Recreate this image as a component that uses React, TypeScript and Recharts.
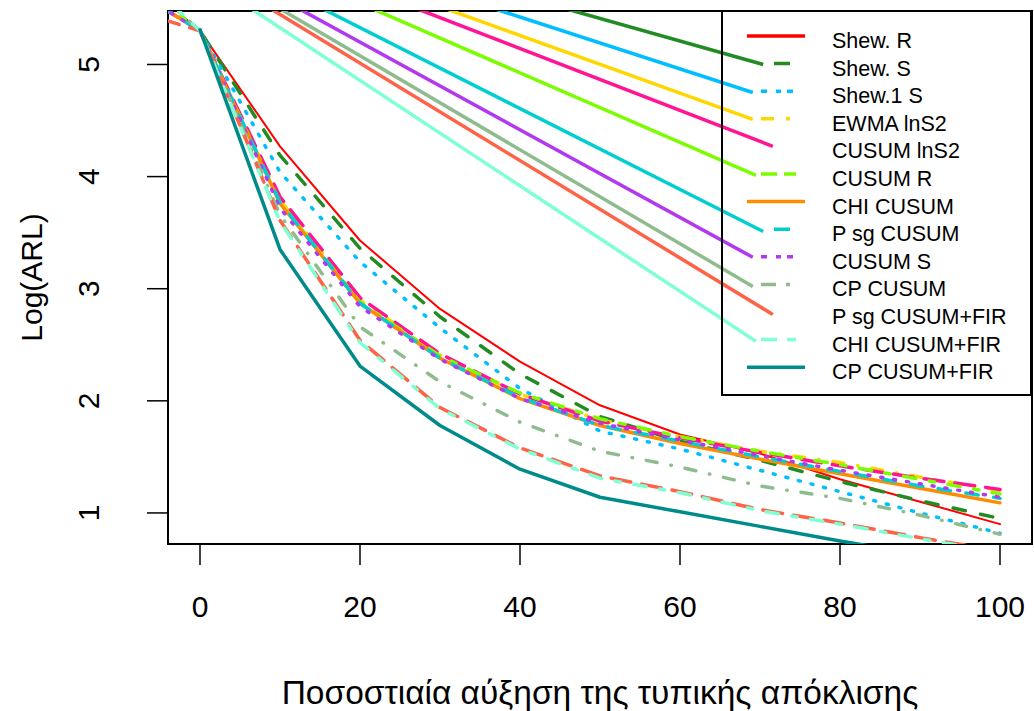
import React from 'react';
import { LineChart, Line, XAxis, YAxis, ReferenceArea, Legend, Label } from 'recharts';

const FONT = '"Liberation Sans", Arial, Helvetica, sans-serif';

// x values: percentage increase of the standard deviation
const pctFromZero = [0, 10, 20, 30, 40, 50, 60, 70, 80, 90, 100];
const pctFromMinus5 = [-5, 0, 10, 20, 30, 40, 50, 60, 70, 80, 90, 100];

// log(ARL) values
const shewR = [5.30, 4.27, 3.43, 2.82, 2.35, 1.96, 1.70, 1.53, 1.30, 1.10, 0.90];
const shewS = [5.57, 5.30, 4.19, 3.36, 2.75, 2.24, 1.86, 1.64, 1.47, 1.28, 1.11, 0.95];
const shew1S = [5.57, 5.30, 4.04, 3.24, 2.65, 2.11, 1.73, 1.57, 1.38, 1.19, 1.00, 0.82];
const ewmaLnS2 = [5.52, 5.30, 3.79, 2.90, 2.41, 2.06, 1.83, 1.68, 1.55, 1.45, 1.32, 1.20];
const cusumLnS2 = [5.52, 5.30, 3.82, 2.92, 2.42, 2.06, 1.82, 1.67, 1.54, 1.42, 1.31, 1.21];
const cusumR = [5.57, 5.30, 3.77, 2.88, 2.40, 2.07, 1.84, 1.68, 1.55, 1.43, 1.30, 1.17];
const chiCusum = [5.52, 5.30, 3.76, 2.87, 2.38, 2.02, 1.78, 1.62, 1.48, 1.35, 1.22, 1.09];
const psgCusum = [5.52, 5.30, 3.77, 2.87, 2.38, 2.03, 1.78, 1.64, 1.50, 1.37, 1.24, 1.13];
const cusumS = [5.52, 5.30, 3.72, 2.84, 2.37, 2.02, 1.80, 1.65, 1.51, 1.38, 1.26, 1.14];
const cpCusum = [5.62, 5.30, 3.66, 2.66, 2.17, 1.81, 1.55, 1.41, 1.24, 1.13, 0.98, 0.81];
const psgCusumFir = [5.41, 5.30, 3.61, 2.54, 1.94, 1.58, 1.33, 1.19, 1.03, 0.91, 0.78, 0.66];
const chiCusumFir = [5.64, 5.30, 3.60, 2.52, 1.93, 1.57, 1.31, 1.18, 1.02, 0.90, 0.77, 0.65];
const cpCusumFir = [5.31, 3.35, 2.31, 1.78, 1.39, 1.14, 1.01, 0.88, 0.75, 0.63, 0.52];

const names = [
  'Shew. R', 'Shew. S', 'Shew.1 S', 'EWMA lnS2', 'CUSUM lnS2', 'CUSUM R', 'CHI CUSUM',
  'P sg CUSUM', 'CUSUM S', 'CP CUSUM', 'P sg CUSUM+FIR', 'CHI CUSUM+FIR', 'CP CUSUM+FIR',
];
const xsOf = [
  pctFromZero, pctFromMinus5, pctFromMinus5, pctFromMinus5, pctFromMinus5, pctFromMinus5, pctFromMinus5,
  pctFromMinus5, pctFromMinus5, pctFromMinus5, pctFromMinus5, pctFromMinus5, pctFromZero,
];
const ysOf = [
  shewR, shewS, shew1S, ewmaLnS2, cusumLnS2, cusumR, chiCusum,
  psgCusum, cusumS, cpCusum, psgCusumFir, chiCusumFir, cpCusumFir,
];

// stray straight strokes that run into the legend keys (data units)
const leaderFrom = { x: -23, y: 6.88 };
const leaderToX = [null, 70.4, 69.1, 69.1, 71.6, 69.5, null, 70.4, 69.1, 69.1, 71.6, 69.5, null];
const leaderToY = [null, 5.0, 4.75, 4.51, 4.27, 4.01, null, 3.51, 3.28, 3.02, 2.77, 2.53, null];

const xTicks = [0, 20, 40, 60, 80, 100];
const yTicks = [1, 2, 3, 4, 5];

const DASHED = '12.5 15.5';
const DOTTED = '2 11';
const DOTDASH = '11 14 0.5 14';
const LONGDASH = '20 11';
const TWODASH = '12.5 13.5 5.5 13.5';

const styles = [
  { color: '#FF0000', width: 2, dash: undefined, key: 'solid' },
  { color: '#228B22', width: 3.5, dash: DASHED, key: '0 27 16 100' },
  { color: '#00BFFF', width: 3.5, dash: DOTTED, key: '0 14 6 9 5 6 6 100' },
  { color: '#FFD700', width: 3.5, dash: DOTDASH, key: '0 14 13 12 4 100' },
  { color: '#FF1493', width: 3.5, dash: LONGDASH, key: 'none' },
  { color: '#7CFC00', width: 3.5, dash: TWODASH, key: '0 14 16 7 12 100' },
  { color: '#FF8C00', width: 3.5, dash: undefined, key: 'solid' },
  { color: '#00CED1', width: 3.5, dash: DASHED, key: '0 27 16 100' },
  { color: '#B23AEE', width: 3.5, dash: DOTTED, key: '0 14 6 9 5 6 6 100' },
  { color: '#8FBC8F', width: 3.5, dash: DOTDASH, key: '0 14 15 10 4 100' },
  { color: '#FF6347', width: 3.5, dash: LONGDASH, key: 'none' },
  { color: '#7FFFD4', width: 3.5, dash: TWODASH, key: '0 14 16 10 9 100' },
  { color: '#008B8B', width: 3.5, dash: undefined, key: 'solid' },
];

const series = names.map((name, i) => ({
  name,
  data: xsOf[i].map((x, j) => ({ x, y: ysOf[i][j] })),
}));

const leaders = names
  .map((name, i) =>
    leaderToX[i] == null
      ? null
      : { name, i, data: [{ x: leaderFrom.x, y: leaderFrom.y }, { x: leaderToX[i], y: leaderToY[i] }] }
  )
  .filter(Boolean) as { name: string; i: number; data: { x: number; y: number }[] }[];

const XTick = (p: any) => (
  <text x={p.x} y={p.y + 50} textAnchor="middle" fontSize={30} fontFamily={FONT} fill="#000">
    {p.payload.value}
  </text>
);

const YTick = (p: any) => {
  const tx = p.x - 46;
  return (
    <text x={tx} y={p.y} transform={`rotate(-90 ${tx} ${p.y})`} textAnchor="middle" fontSize={30} fontFamily={FONT} fill="#000">
      {p.payload.value}
    </text>
  );
};

const LegendBox = () => (
  <svg width={312} height={387} style={{ display: 'block', overflow: 'visible' }}>
    <rect x={1} y={1} width={309} height={384} fill="none" stroke="#000" strokeWidth={2} />
    {names.map((name, i) => {
      const y = 26 + 27.6 * i;
      const st = styles[i];
      return (
        <g key={name}>
          {st.key !== 'none' && (
            <line
              x1={26}
              x2={84}
              y1={y}
              y2={y}
              stroke={st.color}
              strokeWidth={3.5}
              strokeDasharray={st.key === 'solid' ? undefined : st.key}
            />
          )}
          <text x={111} y={y + 12} fontSize={21.5} fontFamily={FONT} fill="#000">
            {name}
          </text>
        </g>
      );
    })}
  </svg>
);

export default function App() {
  return (
    <div style={{ position: 'absolute', left: 0, top: 0, background: '#fff' }}>
      <LineChart width={1034} height={711} margin={{ top: 11, right: 2, bottom: 0, left: 0 }}>
        <XAxis
          type="number"
          dataKey="x"
          domain={[-4, 104]}
          ticks={xTicks}
          allowDataOverflow
          height={167}
          tickSize={21}
          axisLine={false}
          tickLine={{ stroke: '#000', strokeWidth: 1.5 }}
          tick={XTick}
          interval={0}
        >
          <Label
            content={(props: any) => {
              const vb = props.viewBox || { x: 168, y: 544, width: 864 };
              return (
                <text x={vb.x + vb.width / 2} y={vb.y + 160} textAnchor="middle" fontSize={33.5} fontFamily={FONT} fill="#000">
                  Ποσοστιαία αύξηση της τυπικής απόκλισης
                </text>
              );
            }}
          />
        </XAxis>
        <YAxis
          type="number"
          dataKey="y"
          domain={[0.723, 5.477]}
          ticks={yTicks}
          allowDataOverflow
          width={168}
          tickSize={21}
          axisLine={false}
          tickLine={{ stroke: '#000', strokeWidth: 1.5 }}
          tick={YTick}
          interval={0}
        >
          <Label
            content={(props: any) => {
              const vb = props.viewBox || { x: 0, y: 11, height: 533 };
              const cy = vb.y + vb.height / 2;
              return (
                <text x={42} y={cy} transform={`rotate(-90 42 ${cy})`} textAnchor="middle" fontSize={30} fontFamily={FONT} fill="#000">
                  Log(ARL)
                </text>
              );
            }}
          />
        </YAxis>
        {series.map((s, i) => (
          <Line
            key={s.name}
            name={s.name}
            data={s.data}
            dataKey="y"
            type="linear"
            stroke={styles[i].color}
            strokeWidth={styles[i].width}
            strokeDasharray={styles[i].dash}
            strokeLinecap="round"
            strokeLinejoin="round"
            dot={false}
            activeDot={false}
            isAnimationActive={false}
            legendType="none"
          />
        ))}
        {leaders.map((l) => (
          <Line
            key={'lead-' + l.name}
            name={'lead-' + l.name}
            data={l.data}
            dataKey="y"
            type="linear"
            stroke={styles[l.i].color}
            strokeWidth={3.5}
            strokeLinecap="butt"
            dot={false}
            activeDot={false}
            isAnimationActive={false}
            legendType="none"
          />
        ))}
        <ReferenceArea x1={-4} x2={104} y1={0.723} y2={5.477} fill="none" stroke="#000" strokeWidth={2} />
        <Legend
          layout="horizontal"
          verticalAlign="middle"
          align="center"
          wrapperStyle={{ left: 721, top: 10, width: 312, height: 387 }}
          content={() => <LegendBox />}
        />
      </LineChart>
    </div>
  );
}
